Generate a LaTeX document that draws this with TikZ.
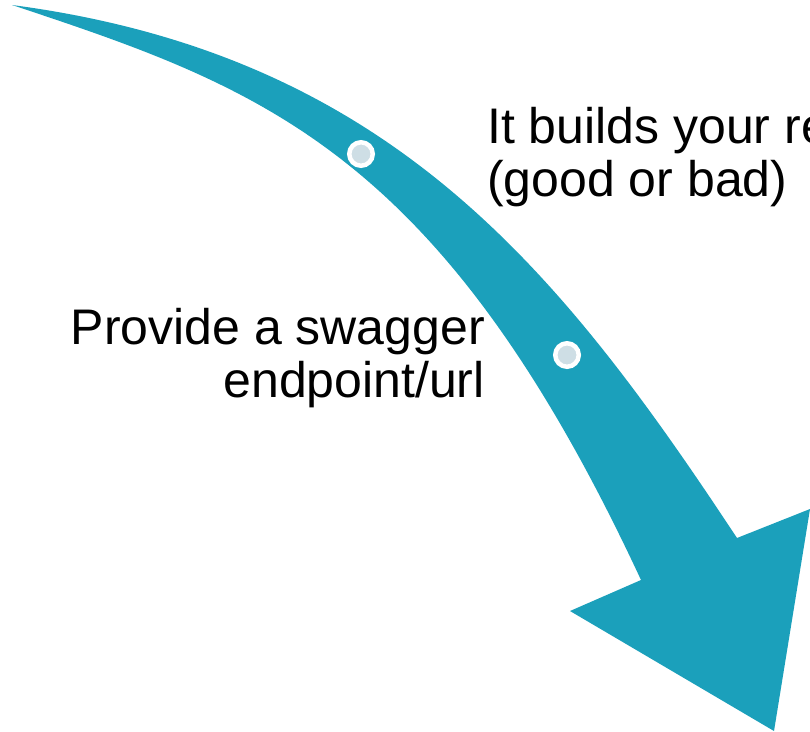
\documentclass[tikz,border=0pt]{standalone}
\usepackage{fontspec}
\setmainfont{Liberation Sans}
\definecolor{teal}{RGB}{27,160,187}
\definecolor{dotfill}{RGB}{206,222,229}
\tikzset{
  arrowbody/.style={fill=teal, draw=none},
  stepdot/.style={circle, minimum size=23.5pt, inner sep=0pt, line width=4.5pt, draw=white, fill=dotfill},
  label/.style={inner sep=0pt, font=\fontsize{50}{53}\selectfont, text=black}
}
\begin{document}
\begin{tikzpicture}[x=1pt,y=-1pt]
\useasboundingbox (0,0) rectangle (810,731);
\clip (0,0) rectangle (810,731);
\fill[white] (0,0) rectangle (810,731);
\path[arrowbody] (12,5) .. controls (390,55) and (560,270) .. (737,538)
  -- (810,509) -- (774,731) -- (570,611) -- (641,580)
  .. controls (441,150) and (262,88) .. (12,5) -- cycle;
\node[stepdot] (d1) at (361,154) {};
\node[stepdot] (d2) at (567,355) {};
\node[label, anchor=base west, align=left] (t1) at (487,196) {It builds your re\\(good or bad)};
\node[label, anchor=base east, align=right] (t2) at (485,397) {Provide a swagger\\endpoint/url};
\end{tikzpicture}
\end{document}
